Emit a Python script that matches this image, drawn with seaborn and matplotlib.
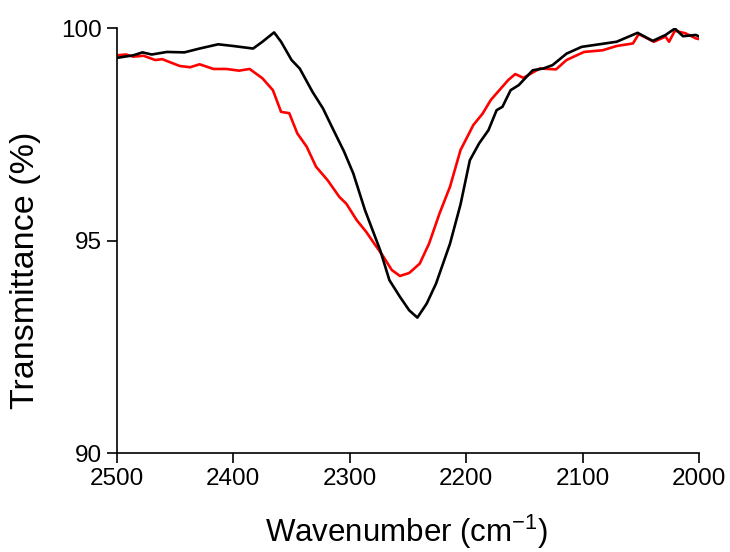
import numpy as np
import matplotlib
matplotlib.use("Agg")
import matplotlib.pyplot as plt
import pandas as pd
import seaborn as sns

# black spectrum
wn_black = [2500, 2486, 2478, 2470, 2457, 2442, 2429, 2413, 2400, 2383, 2375, 2365,
            2359, 2350, 2343, 2332, 2323, 2314, 2305, 2297, 2287, 2274, 2266, 2257,
            2249, 2242, 2234, 2226, 2214, 2205, 2197, 2189, 2181, 2174, 2169, 2162,
            2155, 2143, 2134, 2126, 2114, 2101, 2086, 2071, 2053, 2040, 2029, 2021,
            2014, 2003, 2000]
t_black = [99.30, 99.36, 99.43, 99.38, 99.44, 99.43, 99.52, 99.62, 99.58, 99.52, 99.68, 99.90,
           99.68, 99.25, 99.05, 98.50, 98.11, 97.60, 97.10, 96.58, 95.72, 94.78, 94.07, 93.68,
           93.36, 93.19, 93.52, 93.99, 94.93, 95.85, 96.89, 97.29, 97.60, 98.07, 98.15, 98.54,
           98.66, 99.01, 99.05, 99.13, 99.40, 99.56, 99.62, 99.68, 99.89, 99.70, 99.84, 99.99,
           99.81, 99.84, 99.80]

# red spectrum
wn_red = [2500, 2492, 2486, 2477, 2467, 2461, 2446, 2437, 2429, 2417, 2406, 2395,
          2386, 2375, 2366, 2359, 2352, 2345, 2337, 2329, 2319, 2309, 2303, 2294,
          2286, 2279, 2272, 2264, 2257, 2249, 2240, 2232, 2223, 2214, 2205, 2194,
          2186, 2179, 2164, 2158, 2151, 2137, 2123, 2114, 2099, 2083, 2071, 2057,
          2052, 2039, 2029, 2026, 2021, 2012, 2003, 2000]
t_red = [99.36, 99.38, 99.33, 99.35, 99.25, 99.27, 99.11, 99.08, 99.15, 99.04, 99.04, 99.00,
         99.04, 98.82, 98.54, 98.03, 98.00, 97.52, 97.21, 96.74, 96.42, 96.03, 95.87, 95.48,
         95.21, 94.93, 94.66, 94.31, 94.17, 94.24, 94.46, 94.93, 95.64, 96.27, 97.13, 97.72,
         97.99, 98.31, 98.78, 98.92, 98.83, 99.05, 99.03, 99.25, 99.44, 99.48, 99.58, 99.64,
         99.86, 99.68, 99.80, 99.68, 99.94, 99.88, 99.76, 99.74]

sns.set_style("ticks")
plt.rcParams['font.family'] = ['Liberation Sans', 'DejaVu Sans']
plt.rcParams['mathtext.default'] = 'regular'
plt.rcParams['text.color'] = 'black'
plt.rcParams['axes.labelcolor'] = 'black'

fig = plt.figure(figsize=(7.3, 5.52), dpi=100)
ax = fig.add_axes([0.160, 0.179, 0.798, 0.770])

sns.lineplot(x=wn_red, y=t_red, color='#ff0000', lw=1.9, ax=ax, sort=False)
sns.lineplot(x=wn_black, y=t_black, color='black', lw=1.9, ax=ax, sort=False)

ax.set_xlim(2500, 2000)
ax.set_ylim(90, 100)
ax.set_xticks([2500, 2400, 2300, 2200, 2100, 2000])
ax.set_yticks([90, 95, 100])
ax.tick_params(axis='both', labelsize=17.5, length=7, width=1.2, direction='out',
               colors='black', pad=4)
ax.set_xlabel('Wavenumber (cm$^{-1}$)', fontsize=22.5)
ax.xaxis.set_label_coords(0.497, -0.14)
ax.set_ylabel('Transmittance (%)', fontsize=24.5)
ax.yaxis.set_label_coords(-0.13, 0.43)
sns.despine(ax=ax)
for s in ['left', 'bottom']:
    ax.spines[s].set_linewidth(1.2)
    ax.spines[s].set_color('black')

fig.savefig('out.png', dpi=100)
